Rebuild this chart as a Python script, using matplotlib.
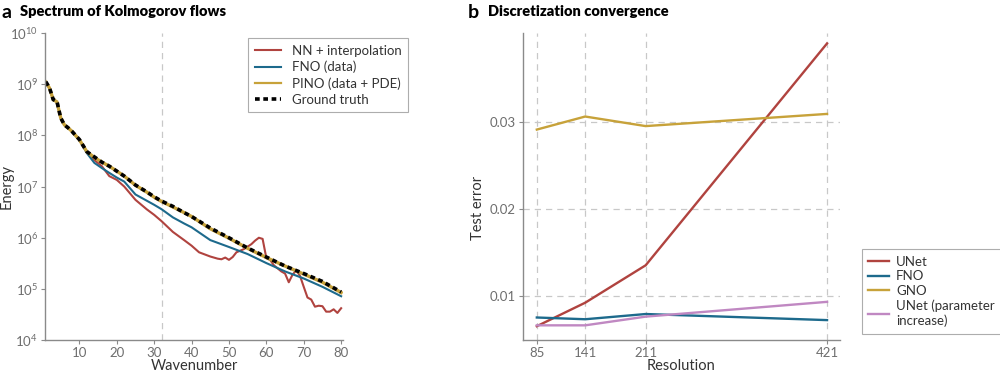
import matplotlib
matplotlib.use("Agg")
import matplotlib.pyplot as plt
from matplotlib.ticker import LogLocator, NullLocator

plt.rcParams['font.family'] = ['Lato', 'DejaVu Sans']
plt.rcParams['mathtext.fontset'] = 'custom'
plt.rcParams['mathtext.rm'] = 'Lato'
plt.rcParams['mathtext.it'] = 'Lato:italic'

# panel a: energy spectrum
k_gt = [1, 2, 3, 4, 5, 6, 7, 8, 10, 12, 14, 16, 18, 20, 22, 25, 28, 30, 32, 35,
        38, 40, 45, 50, 55, 60, 65, 70, 75, 80]
e_gt = [1.12e9, 8.5e8, 5.0e8, 4.6e8, 2.2e8, 1.6e8, 1.4e8, 1.2e8, 8.3e7, 4.8e7,
        3.8e7, 3.0e7, 2.5e7, 2.0e7, 1.6e7, 1.07e7, 7.9e6, 6.3e6, 5.2e6, 4.1e6,
        3.1e6, 2.6e6, 1.55e6, 1.0e6, 6.3e5, 4.2e5, 2.8e5, 2.0e5, 1.4e5, 8.7e4]
e_pino = [1.1e9, 8.4e8, 5.0e8, 4.5e8, 2.2e8, 1.6e8, 1.4e8, 1.2e8, 8.2e7, 4.8e7,
          3.7e7, 3.0e7, 2.5e7, 2.0e7, 1.6e7, 1.06e7, 7.8e6, 6.2e6, 5.1e6, 4.0e6,
          3.1e6, 2.6e6, 1.5e6, 9.8e5, 6.2e5, 4.1e5, 2.8e5, 1.95e5, 1.35e5, 8.5e4]

k_fno = [1, 2, 3, 4, 5, 6, 7, 8, 10, 12, 14, 16, 18, 20, 22, 25, 28, 30, 32, 35,
         38, 40, 45, 50, 55, 60, 65, 70, 75, 80]
e_fno = [1.1e9, 8.4e8, 5.0e8, 4.5e8, 2.2e8, 1.6e8, 1.4e8, 1.2e8, 8.2e7, 4.5e7,
         2.9e7, 2.3e7, 1.85e7, 1.5e7, 1.25e7, 7.0e6, 5.3e6, 4.4e6, 3.6e6, 2.5e6,
         1.9e6, 1.6e6, 9.0e5, 6.6e5, 4.8e5, 3.2e5, 2.2e5, 1.6e5, 1.1e5, 7.2e4]

k_nn = [1, 2, 3, 4, 5, 6, 7, 8, 10, 12, 14, 16, 18, 20, 22, 25, 28, 30, 32, 35,
        38, 40, 42, 45, 47, 48, 49, 50, 51, 52, 54, 56, 57, 58, 59, 60, 61, 62,
        64, 65, 66, 67, 68, 69, 70, 71, 72, 73, 74, 75, 76, 77, 78, 79, 80]
e_nn = [1.1e9, 8.4e8, 5.0e8, 4.5e8, 2.2e8, 1.6e8, 1.4e8, 1.2e8, 8.2e7, 4.6e7,
        3.3e7, 2.5e7, 1.6e7, 1.35e7, 1.0e7, 5.5e6, 3.6e6, 2.8e6, 2.1e6, 1.3e6,
        9.0e5, 7.0e5, 5.2e5, 4.3e5, 3.9e5, 3.8e5, 4.1e5, 3.7e5, 4.2e5, 5.2e5,
        6.0e5, 7.5e5, 8.8e5, 1.0e6, 9.5e5, 4.0e5, 3.7e5, 2.9e5, 2.2e5, 2.0e5,
        1.35e5, 1.9e5, 2.3e5, 1.8e5, 1.1e5, 6.8e4, 6.2e4, 4.5e4, 4.7e4, 4.6e4,
        3.6e4, 3.6e4, 4.0e4, 3.4e4, 4.2e4]

# panel b: test error vs resolution
resolution = [85, 141, 211, 421]
err_unet = [0.0065, 0.0092, 0.0135, 0.0390]
err_fno = [0.0075, 0.0073, 0.0079, 0.0072]
err_gno = [0.0291, 0.0306, 0.0295, 0.0309]
err_unet_big = [0.0066, 0.0066, 0.0076, 0.0093]

c_red = '#b0433f'
c_blue = '#1d6a8c'
c_gold = '#c7a23a'
c_purple = '#c088c2'
c_axis = '#8a8a8a'
c_text = '#6e6e6e'
c_grid = '#c8c8c8'

fig = plt.figure(figsize=(10, 3.75), dpi=100)
ax1 = fig.add_axes([0.045, 0.093, 0.298, 0.819])
ax2 = fig.add_axes([0.523, 0.093, 0.317, 0.819])

for ax in (ax1, ax2):
    for s in ('top', 'right'):
        ax.spines[s].set_visible(False)
    for s in ('left', 'bottom'):
        ax.spines[s].set_color(c_axis)
        ax.spines[s].set_linewidth(1.0)
    ax.tick_params(colors=c_axis, labelcolor=c_text, labelsize=9.5,
                   length=3, pad=2)

# panel a
ax1.plot(k_nn, e_nn, color=c_red, lw=1.5, label='NN + interpolation')
ax1.plot(k_fno, e_fno, color=c_blue, lw=1.5, label='FNO (data)')
ax1.plot(k_gt, e_pino, color=c_gold, lw=2.4, label='PINO (data + PDE)')
ax1.plot(k_gt, e_gt, color='black', lw=2.6, ls=(0, (1.3, 1.0)), label='Ground truth')
ax1.axvline(32, color=c_grid, lw=0.9, ls=(0, (5, 4)), zorder=0)
ax1.set_yscale('log')
ax1.set_ylim(1e4, 1e10)
ax1.set_xlim(0.8, 80.5)
ax1.set_xticks([10, 20, 30, 40, 50, 60, 70, 80])
ax1.yaxis.set_major_locator(LogLocator(base=10, numticks=10))
ax1.yaxis.set_minor_locator(NullLocator())
ax1.set_xlabel('Wavenumber', fontsize=10.5, color='#333333', labelpad=0)
ax1.set_ylabel('Energy', fontsize=10.5, color='#333333')
ax1.yaxis.set_label_coords(-0.105, 0.5)
h1, l1 = ax1.get_legend_handles_labels()
leg1 = ax1.legend(h1, l1, loc='upper left', bbox_to_anchor=(0.66, 1.005),
                  fontsize=9.5, frameon=True, fancybox=False,
                  edgecolor='#999999', handlelength=2.0, borderpad=0.5,
                  labelspacing=0.3)
leg1.get_frame().set_linewidth(0.8)
leg1.get_lines()[2].set_linewidth(1.6)
for t in leg1.get_texts():
    t.set_color('#333333')

# panel b
ax2.plot(resolution, err_unet, color=c_red, lw=1.7, label='UNet')
ax2.plot(resolution, err_fno, color=c_blue, lw=1.7, label='FNO')
ax2.plot(resolution, err_gno, color=c_gold, lw=1.7, label='GNO')
ax2.plot(resolution, err_unet_big, color=c_purple, lw=1.7,
         label='UNet (parameter\nincrease)')
ax2.set_xlim(69, 436)
ax2.set_ylim(0.0049, 0.0402)
ax2.set_xticks(resolution)
ax2.set_yticks([0.01, 0.02, 0.03])
ax2.set_yticklabels(['0.01', '0.02', '0.03'])
ax2.grid(True, color=c_grid, lw=0.9, ls=(0, (5, 4)))
ax2.set_axisbelow(True)
ax2.set_xlabel('Resolution', fontsize=10.5, color='#333333', labelpad=0)
ax2.set_ylabel('Test error', fontsize=10.5, color='#333333')
ax2.yaxis.set_label_coords(-0.12, 0.43)
leg2 = fig.legend(*ax2.get_legend_handles_labels(), loc='lower left',
                  bbox_to_anchor=(0.855, 0.093), fontsize=9.5, frameon=True,
                  fancybox=False, edgecolor='#999999', handlelength=1.6,
                  handletextpad=0.5, borderpad=0.5, labelspacing=0.2)
leg2.get_frame().set_linewidth(0.8)
for t in leg2.get_texts():
    t.set_color('#333333')

# panel titles
fig.text(0.002, 0.968, 'a', fontsize=14, fontweight='bold', va='center')
fig.text(0.02, 0.968, 'Spectrum of Kolmogorov flows', fontsize=10.5,
         fontweight='heavy', va='center')
fig.text(0.468, 0.968, 'b', fontsize=14, fontweight='bold', va='center')
fig.text(0.488, 0.968, 'Discretization convergence', fontsize=10.5,
         fontweight='heavy', va='center')

fig.savefig('out.png', dpi=100)
